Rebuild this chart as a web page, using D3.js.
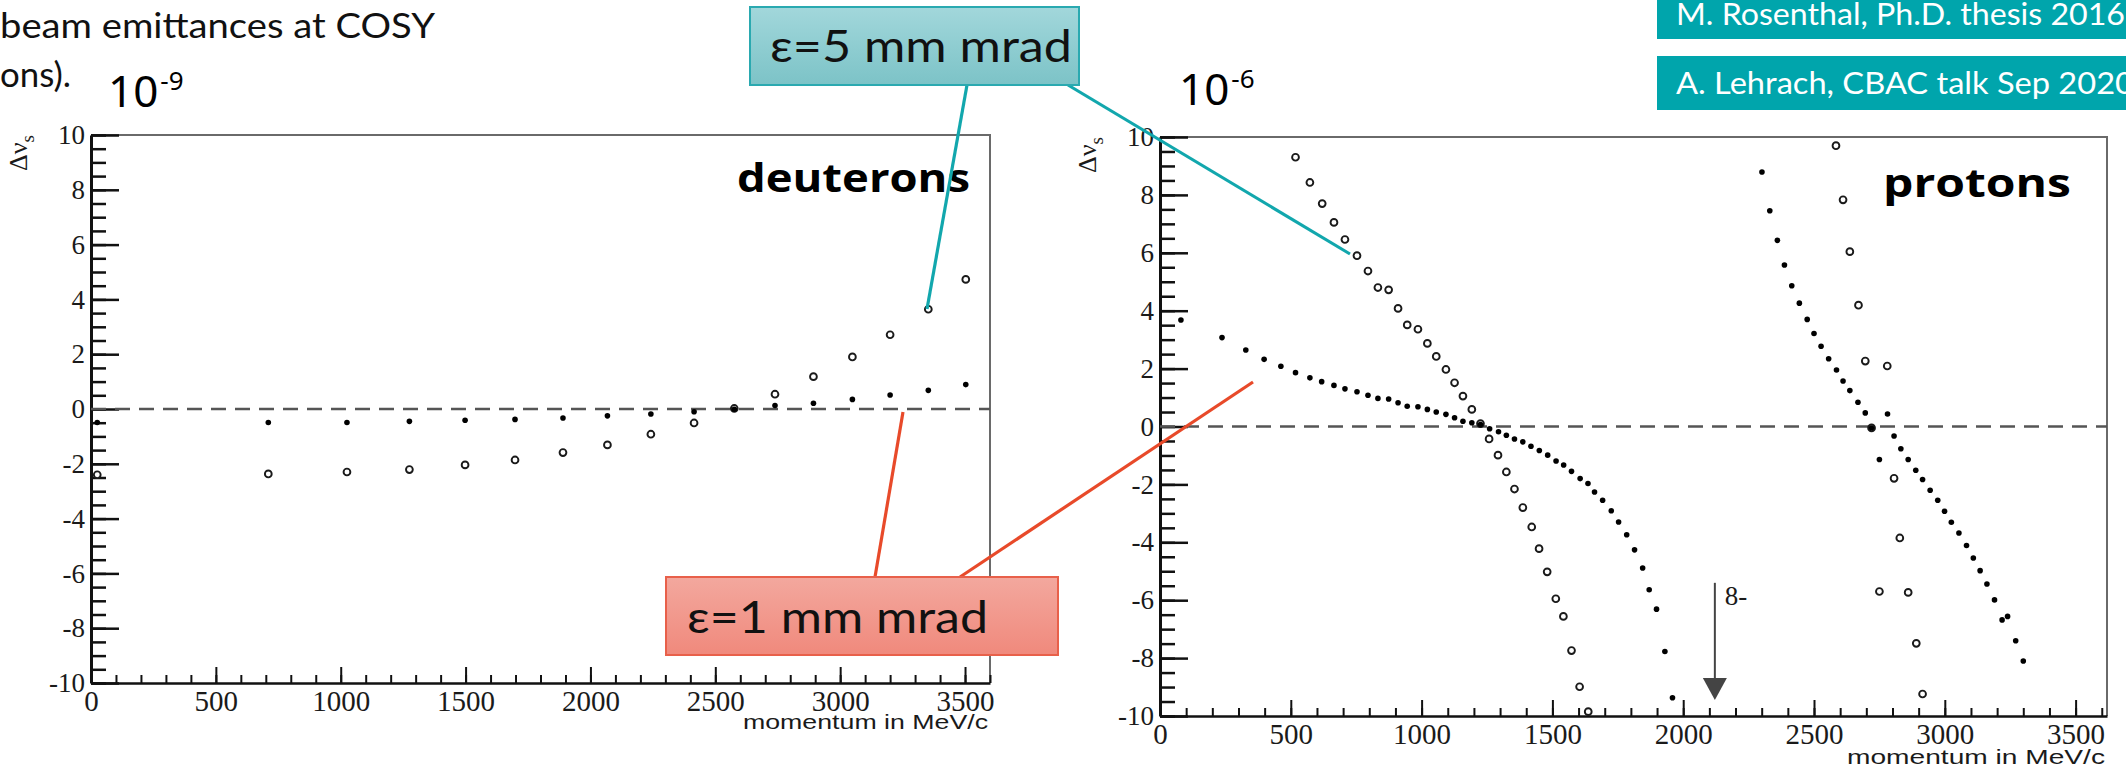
<!DOCTYPE html>
<html>
<head>
<meta charset="utf-8">
<script src="https://d3js.org/d3.v7.min.js"></script>
<style>
  body { margin: 0; background: #fff; }
  svg { display: block; }
</style>
</head>
<body>
<div id="slide"></div>
<script>
// Deuterons: momentum in MeV/c, tune spread in units of 1e-9
var deutMomentum = [25, 710, 1025, 1275, 1498, 1698, 1890, 2068, 2242, 2415, 2576, 2739, 2893, 3049, 3200, 3353, 3503];
var deutEps1 = [-0.49, -0.49, -0.49, -0.45, -0.41, -0.38, -0.33, -0.25, -0.18, -0.1, -0.01, 0.13, 0.21, 0.35, 0.51, 0.68, 0.89];
var deutEps5 = [-2.4, -2.37, -2.3, -2.21, -2.04, -1.86, -1.59, -1.31, -0.92, -0.51, 0.02, 0.54, 1.18, 1.9, 2.71, 3.64, 4.73];

// Protons: [momentum, tune spread in units of 1e-6]
var protonEps1 = [
  [80, 3.68], [237, 3.07], [328, 2.64], [398, 2.32], [462, 2.08], [518, 1.86], [573, 1.68], [618, 1.55],
  [665, 1.42], [707, 1.3], [753, 1.2], [795, 1.08], [833, 0.97], [874, 0.95], [910, 0.82], [945, 0.7],
  [986, 0.68], [1022, 0.59], [1056, 0.5], [1093, 0.42], [1126, 0.3], [1158, 0.18], [1192, 0.13], [1225, 0.07],
  [1260, -0.08], [1294, -0.18], [1324, -0.3], [1355, -0.43], [1387, -0.53], [1418, -0.68], [1450, -0.83], [1482, -0.99],
  [1514, -1.19], [1543, -1.33], [1573, -1.55], [1606, -1.8], [1636, -1.97], [1661, -2.26], [1692, -2.55], [1725, -2.91],
  [1753, -3.3], [1784, -3.74], [1814, -4.26], [1845, -4.89], [1870, -5.64], [1898, -6.31], [1930, -7.77], [1959, -9.37],
  [2301, 8.79], [2331, 7.45], [2360, 6.43], [2387, 5.58], [2415, 4.86], [2444, 4.26], [2474, 3.7], [2500, 3.21],
  [2527, 2.77], [2556, 2.34], [2586, 1.95], [2611, 1.57], [2637, 1.24], [2668, 0.84], [2696, 0.47], [2720, -0.05],
  [2750, -1.14], [2781, 0.43], [2806, -0.33], [2832, -0.77], [2860, -1.14], [2889, -1.51], [2915, -1.83], [2944, -2.2],
  [2973, -2.55], [2999, -2.93], [3025, -3.31], [3054, -3.68], [3083, -4.11], [3109, -4.54], [3135, -4.98], [3161, -5.44],
  [3190, -5.99], [3219, -6.68], [3240, -6.56], [3271, -7.4], [3300, -8.1]
];
var protonEps5 = [
  [518, 9.3], [573, 8.43], [620, 7.7], [665, 7.05], [707, 6.46], [753, 5.9], [795, 5.37], [833, 4.8],
  [874, 4.72], [910, 4.08], [945, 3.51], [986, 3.36], [1022, 2.87], [1056, 2.42], [1093, 1.97], [1126, 1.51],
  [1158, 1.05], [1192, 0.59], [1225, 0.1], [1258, -0.43], [1292, -0.99], [1324, -1.57], [1355, -2.16], [1387, -2.8],
  [1421, -3.47], [1449, -4.22], [1480, -5.02], [1513, -5.95], [1542, -6.56], [1573, -7.74], [1604, -8.99], [1637, -9.85],
  [2584, 9.7], [2611, 7.83], [2637, 6.04], [2670, 4.19], [2696, 2.26], [2780, 2.09], [2720, -0.05], [2806, -1.79],
  [2828, -3.85], [2750, -5.7], [2860, -5.73], [2891, -7.49], [2915, -9.24]
];

// axis ticks
var xTicks = [0, 500, 1000, 1500, 2000, 2500, 3000, 3500];
var yTicks = [-10, -8, -6, -4, -2, 0, 2, 4, 6, 8, 10];
var xMinor = d3.range(0, 3601, 100);
var yMinor = d3.range(-10, 10.01, 0.5);

// 8- resonance marker on the proton plot
var resonance = { p: 2121, from: -5.4, to: -9.45, label: "8-" };

var svg = d3.select("#slide").append("svg")
  .attr("width", 2126)
  .attr("height", 771);

var serif = "'Liberation Serif', 'DejaVu Serif', serif";

function drawPanel(cfg) {
  var x = d3.scaleLinear().domain([0, cfg.xMax]).range([cfg.left, cfg.right]);
  var y = d3.scaleLinear().domain([-10, 10]).range([cfg.bottom, cfg.top]);
  var g = svg.append("g");

  // top and right frame
  g.append("path")
    .attr("d", `M${cfg.left},${cfg.top}H${cfg.right}V${cfg.bottom}`)
    .attr("fill", "none")
    .attr("stroke", "#6a6a6a")
    .attr("stroke-width", 2);

  // minor ticks (drawn inside the frame, ROOT style)
  var xm = g.append("g").attr("transform", `translate(0,${cfg.bottom})`)
    .call(d3.axisBottom(x).tickValues(xMinor).tickSize(-8).tickFormat(""));
  xm.select(".domain").remove();
  xm.selectAll("line").attr("stroke", "#111").attr("stroke-width", 2);

  var ym = g.append("g").attr("transform", `translate(${cfg.left},0)`)
    .call(d3.axisLeft(y).tickValues(yMinor).tickSize(-15).tickFormat(""));
  ym.select(".domain").remove();
  ym.selectAll("line").attr("stroke", "#111").attr("stroke-width", 2.5);

  // major ticks with labels
  var xa = g.append("g").attr("transform", `translate(0,${cfg.bottom})`)
    .call(d3.axisBottom(x).tickValues(xTicks).tickSizeInner(-16).tickSizeOuter(0).tickPadding(7).tickFormat(d => String(d)));
  xa.select(".domain").attr("stroke", "#111").attr("stroke-width", 2.5);
  xa.selectAll("line").attr("stroke", "#111").attr("stroke-width", 2);
  xa.selectAll("text").attr("font-family", serif).attr("font-size", 29).attr("fill", "#1a1a1a");

  var ya = g.append("g").attr("transform", `translate(${cfg.left},0)`)
    .call(d3.axisLeft(y).tickValues(yTicks).tickSizeInner(-28).tickSizeOuter(0).tickPadding(6).tickFormat(d => String(d)));
  ya.select(".domain").attr("stroke", "#111").attr("stroke-width", 3);
  ya.selectAll("line").attr("stroke", "#111").attr("stroke-width", 2.5);
  ya.selectAll("text").attr("font-family", serif).attr("font-size", 27).attr("fill", "#1a1a1a");

  // dashed zero line
  g.append("line")
    .attr("x1", cfg.left).attr("x2", cfg.right)
    .attr("y1", y(0)).attr("y2", y(0))
    .attr("stroke", "#555")
    .attr("stroke-width", 2.6)
    .attr("stroke-dasharray", "15,9");

  // y axis title  Δν_s
  var yt = g.append("text")
    .attr("transform", `translate(${cfg.left - 64},${cfg.top + 18}) rotate(-90)`)
    .attr("text-anchor", "middle")
    .attr("font-family", serif)
    .attr("font-size", 26)
    .attr("fill", "#1a1a1a");
  yt.append("tspan").text("Δν");
  yt.append("tspan").attr("dy", 7).attr("font-size", 19).text("s");

  // x axis title
  g.append("text")
    .attr("x", cfg.right - 2)
    .attr("y", cfg.bottom + cfg.titleGap)
    .attr("text-anchor", "end")
    .attr("font-family", "'Liberation Sans', Arial, sans-serif")
    .attr("font-size", 21)
    .attr("textLength", cfg.titleWidth)
    .attr("lengthAdjust", "spacingAndGlyphs")
    .attr("fill", "#1a1a1a")
    .text("momentum in MeV/c");

  // particle name
  g.append("text")
    .attr("x", cfg.nameX)
    .attr("y", cfg.nameY)
    .attr("font-family", "'Open Sans', sans-serif")
    .attr("font-weight", "bold")
    .attr("font-size", 40)
    .attr("textLength", cfg.nameWidth)
    .attr("lengthAdjust", "spacingAndGlyphs")
    .attr("fill", "#000")
    .text(cfg.name);

  // power of ten above the axis
  var pw = svg.append("text")
    .attr("x", cfg.powX)
    .attr("y", cfg.powY)
    .attr("font-family", "'Noto Sans', sans-serif")
    .attr("font-size", 44)
    .attr("fill", "#000");
  pw.append("tspan").text("10");
  pw.append("tspan").attr("dy", -17).attr("dx", 2).attr("font-size", 26).text(cfg.power);

  return { g: g, x: x, y: y };
}

function drawFilled(panel, data) {
  panel.g.append("g").selectAll("circle")
    .data(data)
    .join("circle")
    .attr("cx", d => panel.x(d[0]))
    .attr("cy", d => panel.y(d[1]))
    .attr("r", 2.8)
    .attr("fill", "#000");
}

function drawOpen(panel, data) {
  panel.g.append("g").selectAll("circle")
    .data(data)
    .join("circle")
    .attr("cx", d => panel.x(d[0]))
    .attr("cy", d => panel.y(d[1]))
    .attr("r", 3.4)
    .attr("fill", "#fff")
    .attr("stroke", "#1a1a1a")
    .attr("stroke-width", 1.9);
}

// ---- left panel: deuterons
var deut = drawPanel({
  left: 91, right: 990, top: 135, bottom: 683, xMax: 3600,
  titleGap: 46, titleWidth: 245,
  name: "deuterons", nameX: 737, nameY: 192, nameWidth: 233,
  power: "-9", powX: 108, powY: 107
});
var deutPairs5 = deutMomentum.map((p, i) => [p, deutEps5[i]]);
var deutPairs1 = deutMomentum.map((p, i) => [p, deutEps1[i]]);
drawOpen(deut, deutPairs5);
drawFilled(deut, deutPairs1);

// ---- right panel: protons
var prot = drawPanel({
  left: 1160, right: 2107, top: 137, bottom: 716, xMax: 3620,
  titleGap: 48, titleWidth: 258,
  name: "protons", nameX: 1883, nameY: 197, nameWidth: 188,
  power: "-6", powX: 1179, powY: 105
});
drawOpen(prot, protonEps5);
drawFilled(prot, protonEps1);

// resonance arrow
var ax = prot.x(resonance.p);
prot.g.append("line")
  .attr("x1", ax).attr("x2", ax)
  .attr("y1", prot.y(resonance.from)).attr("y2", prot.y(resonance.to) - 18)
  .attr("stroke", "#444").attr("stroke-width", 2);
prot.g.append("path")
  .attr("d", `M${ax - 12},${prot.y(resonance.to) - 22}L${ax + 12},${prot.y(resonance.to) - 22}L${ax},${prot.y(resonance.to)}Z`)
  .attr("fill", "#444");
prot.g.append("text")
  .attr("x", ax + 10)
  .attr("y", prot.y(resonance.from) + 22)
  .attr("font-family", serif)
  .attr("font-size", 27)
  .attr("fill", "#1a1a1a")
  .text(resonance.label);

// ---- slide text (cut off at the left edge)
var slideFont = "Lato, 'Open Sans', sans-serif";
svg.append("text").attr("x", 0).attr("y", 38)
  .attr("font-family", slideFont).attr("font-size", 35).attr("fill", "#111")
  .attr("textLength", 435).attr("lengthAdjust", "spacingAndGlyphs")
  .text("beam emittances at COSY");
svg.append("text").attr("x", 0).attr("y", 87)
  .attr("font-family", slideFont).attr("font-size", 35).attr("fill", "#111")
  .attr("textLength", 71).attr("lengthAdjust", "spacingAndGlyphs")
  .text("ons).");

// ---- reference boxes, top right
var refs = [
  { text: "M. Rosenthal, Ph.D. thesis 2016", y0: -5, y1: 39, base: 25, w: 449 },
  { text: "A. Lehrach, CBAC talk Sep 2020", y0: 56, y1: 110, base: 94, w: 458 }
];
refs.forEach(function(r) {
  svg.append("rect").attr("x", 1657).attr("y", r.y0)
    .attr("width", 480).attr("height", r.y1 - r.y0)
    .attr("fill", "#00a5ac");
  svg.append("text").attr("x", 1676).attr("y", r.base)
    .attr("font-family", slideFont).attr("font-size", 30).attr("fill", "#fff")
    .attr("textLength", r.w).attr("lengthAdjust", "spacingAndGlyphs")
    .text(r.text);
});

// ---- callouts
var defs = svg.append("defs");
var gT = defs.append("linearGradient").attr("id", "gTeal").attr("x1", 0).attr("y1", 0).attr("x2", 0).attr("y2", 1);
gT.append("stop").attr("offset", "0%").attr("stop-color", "#a2d7db");
gT.append("stop").attr("offset", "100%").attr("stop-color", "#7cc3c7");
var gR = defs.append("linearGradient").attr("id", "gRed").attr("x1", 0).attr("y1", 0).attr("x2", 0).attr("y2", 1);
gR.append("stop").attr("offset", "0%").attr("stop-color", "#f3a89e");
gR.append("stop").attr("offset", "100%").attr("stop-color", "#f0897c");

var callouts = [
  { text: "ε=5 mm mrad", box: [750, 7, 1079, 85], fill: "url(#gTeal)", border: "#2aa9b0", line: "#12a7ad",
    textX: 770, base: 62, tw: 302,
    leaders: [[967, 85, 927, 309], [1068, 85, 1350, 254]] },
  { text: "ε=1 mm mrad", box: [666, 577, 1058, 655], fill: "url(#gRed)", border: "#e8604a", line: "#e84a2a",
    textX: 687, base: 633, tw: 301,
    leaders: [[875, 577, 903, 412], [960, 577, 1253, 382]] }
];
callouts.forEach(function(c) {
  c.leaders.forEach(function(l) {
    svg.append("line")
      .attr("x1", l[0]).attr("y1", l[1]).attr("x2", l[2]).attr("y2", l[3])
      .attr("stroke", c.line).attr("stroke-width", 3.2);
  });
  svg.append("rect")
    .attr("x", c.box[0]).attr("y", c.box[1])
    .attr("width", c.box[2] - c.box[0]).attr("height", c.box[3] - c.box[1])
    .attr("fill", c.fill).attr("stroke", c.border).attr("stroke-width", 2);
  svg.append("text").attr("x", c.textX).attr("y", c.base)
    .attr("font-family", slideFont).attr("font-size", 45).attr("fill", "#111")
    .attr("textLength", c.tw).attr("lengthAdjust", "spacingAndGlyphs")
    .text(c.text);
});
</script>
</body>
</html>
